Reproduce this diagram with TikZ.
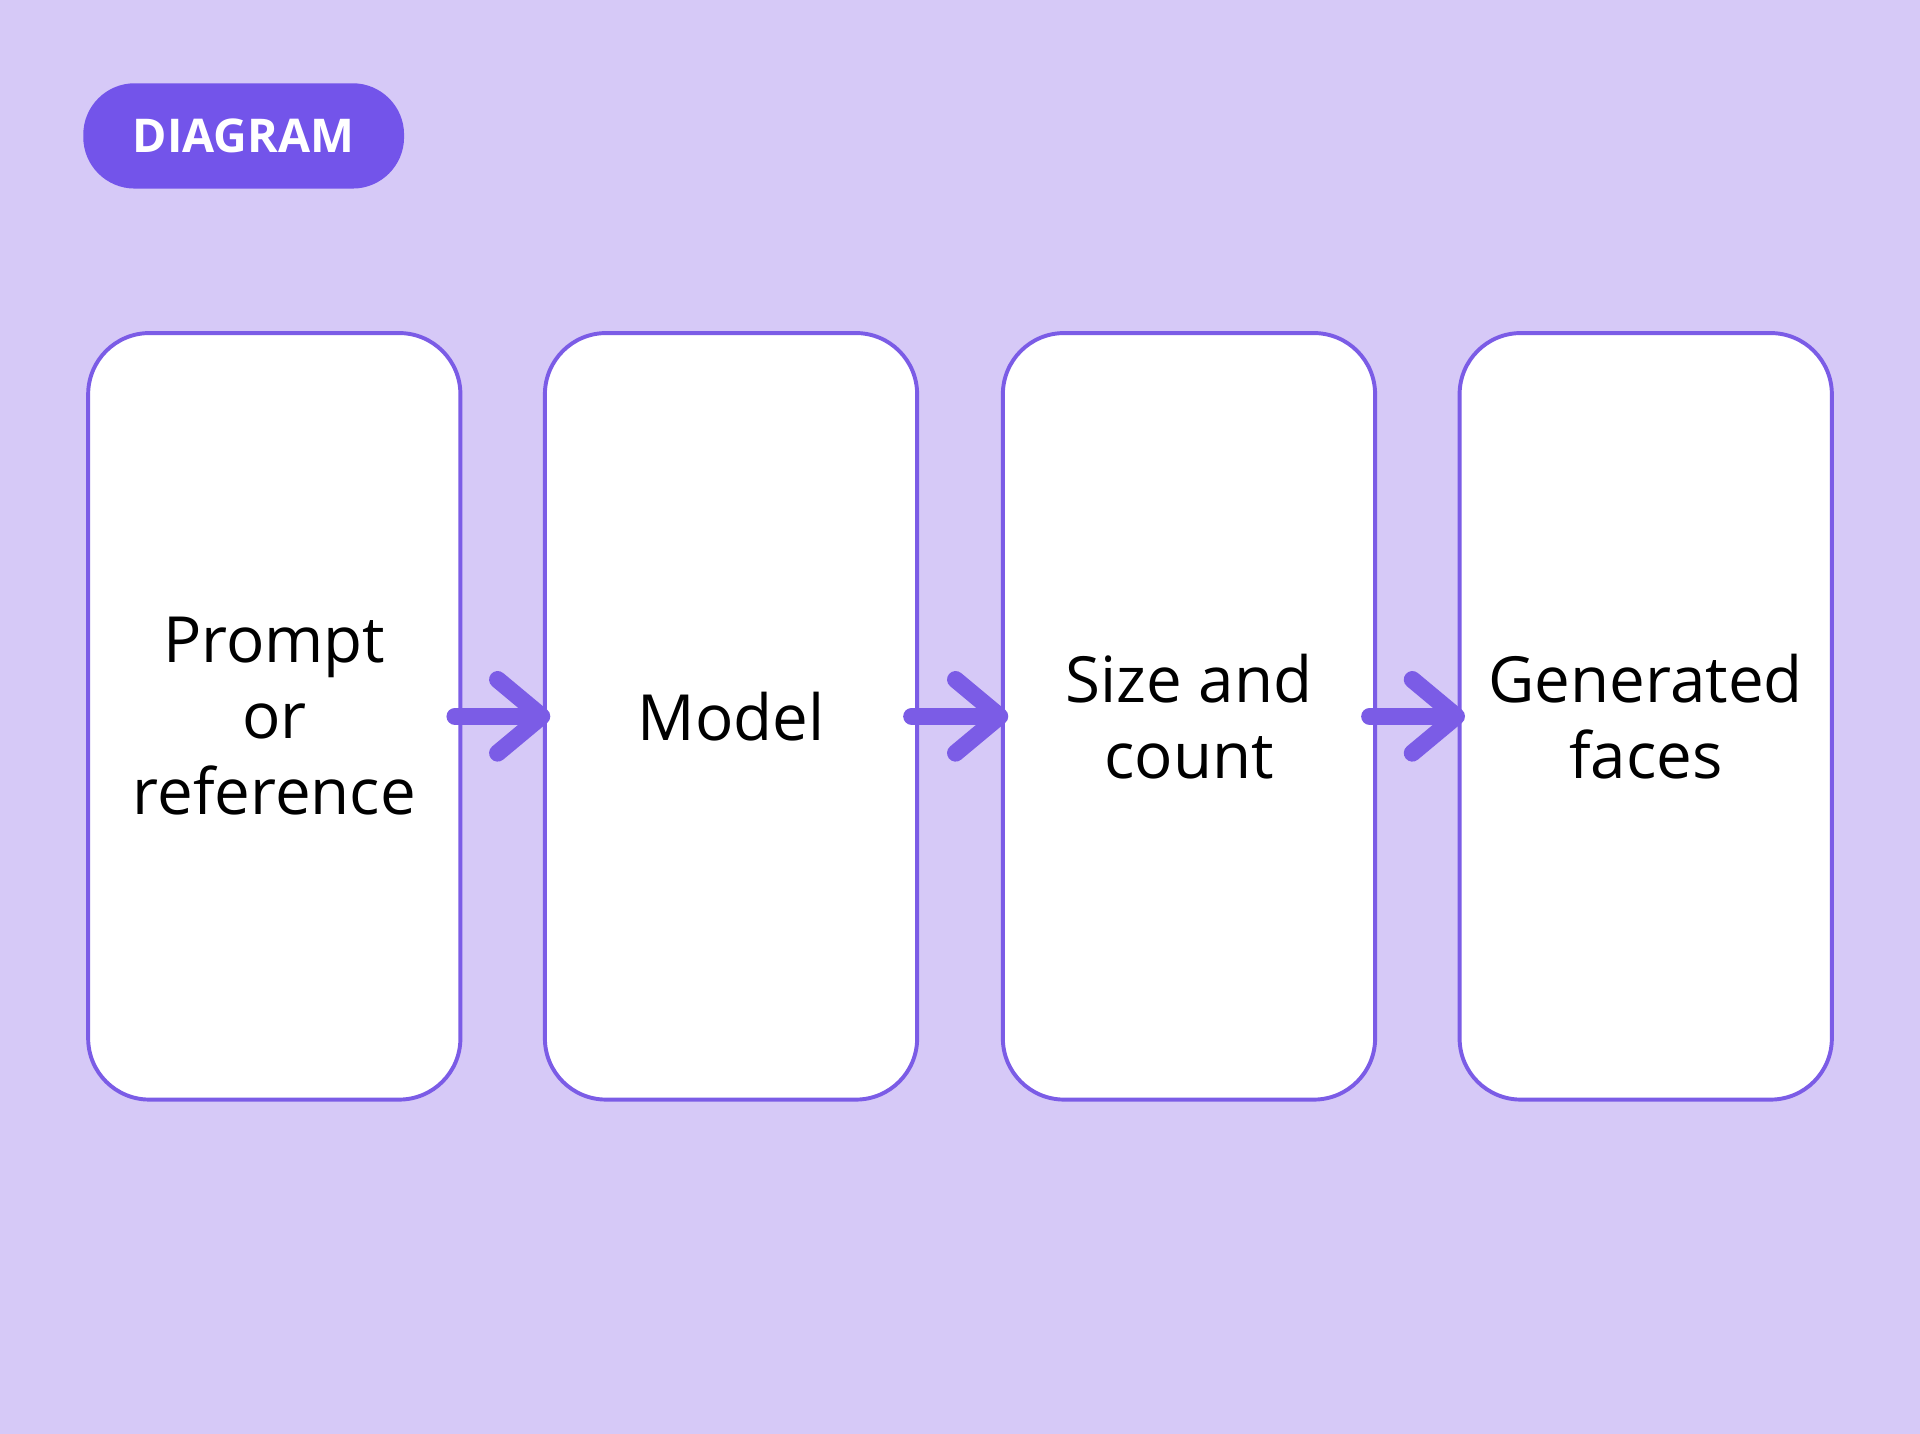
\documentclass[tikz,border=0pt]{standalone}
\usepackage{fontspec}
\setmainfont{Open Sans}
\usetikzlibrary{positioning,arrows.meta}
\definecolor{bgviolet}{HTML}{D6C9F7}
\definecolor{edgeviolet}{HTML}{7B5CE6}
\definecolor{badgeviolet}{HTML}{7354EA}

\begin{document}
\begin{tikzpicture}[x=0.5pt, y=-0.5pt,
step_box/.style={rectangle, rounded corners=25pt, draw=edgeviolet, fill=white, line width=1.6pt, minimum width=152pt, minimum height=313pt, align=center, font=\fontsize{26}{31}\selectfont, text=black},
badge/.style={rectangle, rounded corners=21pt, fill=badgeviolet, minimum width=131pt, minimum height=43pt, text=white, font=\fontsize{19}{22}\selectfont\bfseries},
flow_arrow/.style={-{Straight Barb[length=18pt, width=30pt, line cap=round, line join=round]}, line width=7pt, draw=edgeviolet, line cap=round, shorten <=-3pt, shorten >=-3pt}
]
\fill[bgviolet] (0,0) rectangle (1568,1171);
\useasboundingbox (0,0) rectangle (1568,1171);

\node[badge](title) at (199,111) {DIAGRAM};

\node[step_box](prompt) at (224,585) {Prompt\\or\\reference};
\node[step_box](model) at (597,585) {Model};
\node[step_box](size) at (971,585) {Size and\\count};
\node[step_box](faces) at (1344,585) {Generated\\faces};

\draw[flow_arrow](prompt.east) -- (model.west);
\draw[flow_arrow](model.east) -- (size.west);
\draw[flow_arrow](size.east) -- (faces.west);

\end{tikzpicture}
\end{document}
